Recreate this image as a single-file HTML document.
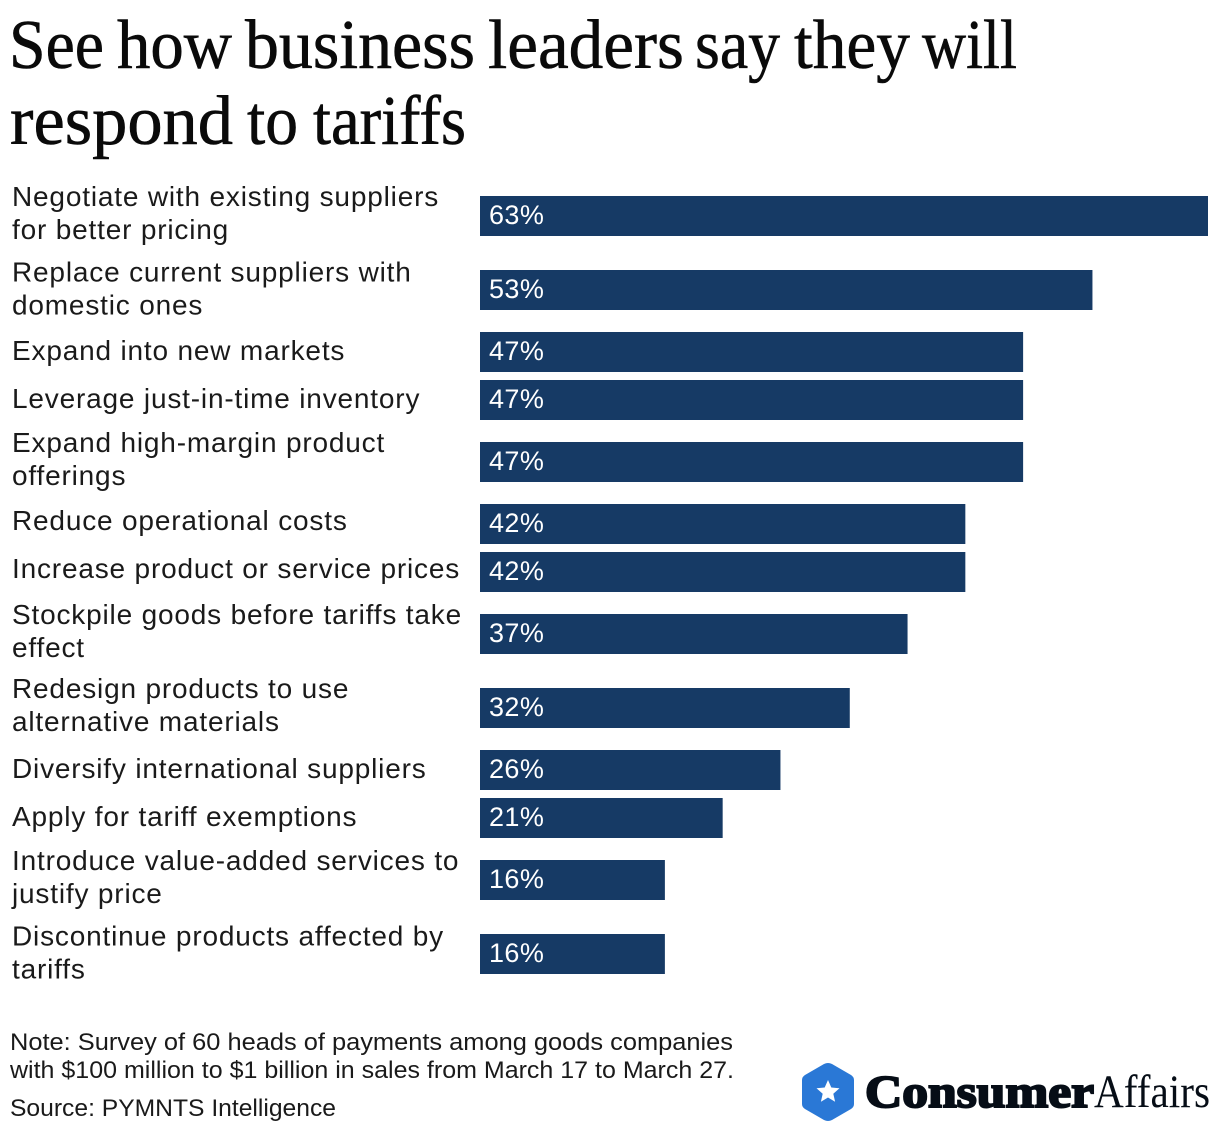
<!DOCTYPE html>
<html lang="en"><head><meta charset="utf-8"><title>See how business leaders say they will respond to tariffs</title>
<style>
html,body{margin:0;padding:0;background:#fff;width:1220px;height:1134px;overflow:hidden}
svg{display:block}
text{font-family:"Liberation Sans",sans-serif;fill:#111}
.t{font-family:"Liberation Serif",serif;font-size:70px;fill:#0a0a0a;stroke:#0a0a0a;stroke-width:.6px}
.l{font-size:28px;fill:#1a1a1a;letter-spacing:.82px}
.v{font-size:27px;fill:#fff;letter-spacing:.4px}
.n{font-size:24px;fill:#1a1a1a}
</style></head><body>
<svg id="chart" xmlns="http://www.w3.org/2000/svg" width="1220" height="1134" viewBox="0 0 1220 1134">
<text class="t" y="68"><tspan x="9" textLength="95" lengthAdjust="spacingAndGlyphs">See</tspan> <tspan x="117" textLength="115" lengthAdjust="spacingAndGlyphs">how</tspan> <tspan x="245" textLength="230" lengthAdjust="spacingAndGlyphs">business</tspan> <tspan x="488" textLength="196" lengthAdjust="spacingAndGlyphs">leaders</tspan> <tspan x="695" textLength="85" lengthAdjust="spacingAndGlyphs">say</tspan> <tspan x="794" textLength="116" lengthAdjust="spacingAndGlyphs">they</tspan> <tspan x="922" textLength="95" lengthAdjust="spacingAndGlyphs">will</tspan></text>
<text class="t" y="144"><tspan x="10" textLength="223" lengthAdjust="spacingAndGlyphs">respond</tspan> <tspan x="247" textLength="51" lengthAdjust="spacingAndGlyphs">to</tspan> <tspan x="313" textLength="153" lengthAdjust="spacingAndGlyphs">tariffs</tspan></text>
<g id="rows"></g>
<text class="n" x="10" y="1050" textLength="723" lengthAdjust="spacingAndGlyphs">Note: Survey of 60 heads of payments among goods companies</text>
<text class="n" x="10" y="1078" textLength="724" lengthAdjust="spacingAndGlyphs">with $100 million to $1 billion in sales from March 17 to March 27.</text>
<text class="n" x="10" y="1116" textLength="326" lengthAdjust="spacingAndGlyphs">Source: PYMNTS Intelligence</text>
<g>
<path d="M828 1063 Q830 1063 832 1064 L851 1075 Q854 1077 854 1080 L854 1104 Q854 1107 851 1109 L832 1120 Q828 1122 824 1120 L805 1109 Q802 1107 802 1104 L802 1080 Q802 1077 805 1075 L824 1064 Q826 1063 828 1063Z" fill="#2a78d6"/>
<polygon points="828,1080 831.3,1087.5 839.5,1088.3 833.3,1093.7 835.1,1101.7 828,1097.5 820.9,1101.7 822.7,1093.7 816.5,1088.3 824.7,1087.5" fill="#fff"/>
<text x="865" y="1107" textLength="229" lengthAdjust="spacingAndGlyphs" style="font-family:'Liberation Serif',serif;font-weight:bold;font-size:45px;fill:#060d16;stroke:#060d16;stroke-width:2px">Consumer</text>
<text x="1094" y="1107" textLength="116" lengthAdjust="spacingAndGlyphs" style="font-family:'Liberation Serif',serif;font-size:47px;fill:#060d16">Affairs</text>
</g>
</svg>
<script>
const categories = [
  ["Negotiate with existing suppliers", "for better pricing"],
  ["Replace current suppliers with", "domestic ones"],
  ["Expand into new markets"],
  ["Leverage just-in-time inventory"],
  ["Expand high-margin product", "offerings"],
  ["Reduce operational costs"],
  ["Increase product or service prices"],
  ["Stockpile goods before tariffs take", "effect"],
  ["Redesign products to use", "alternative materials"],
  ["Diversify international suppliers"],
  ["Apply for tariff exemptions"],
  ["Introduce value-added services to", "justify price"],
  ["Discontinue products affected by", "tariffs"]
];
const shares = [63, 53, 47, 47, 47, 42, 42, 37, 32, 26, 21, 16, 16];

const SVGNS = "http://www.w3.org/2000/svg";
const x0 = 480, barH = 40, pxPerPoint = 728 / 63, firstTop = 196;
const xScale = v => v * pxPerPoint;
const pitch = (a, b) => (a === 2 && b === 2) ? 74 : (a === 1 && b === 1) ? 48 : 62;
const rows = document.getElementById("rows");
const rowNudge = i => (i === 5 || i === 6) ? -2 : (i === 1 || i === 12) ? 1.5 : 0;
let barTop = firstTop;
categories.forEach((lines, i) => {
  const g = document.createElementNS(SVGNS, "g");
  
  
  const rect = document.createElementNS(SVGNS, "rect");
  
  
  rect.setAttribute("x", x0);
  rect.setAttribute("y", barTop);
  rect.setAttribute("width", xScale(shares[i]));
  rect.setAttribute("height", barH);
  rect.setAttribute("fill", "#163a65");
  g.appendChild(rect);
  const val = document.createElementNS(SVGNS, "text");
  
  
  val.setAttribute("class", "v");
  val.setAttribute("x", x0 + 9);
  val.setAttribute("y", barTop + 28);
  val.textContent = shares[i] + "%";
  g.appendChild(val);
  const c = barTop + barH / 2;
  lines.forEach((s, j) => {
    const t = document.createElementNS(SVGNS, "text");
    
    
    t.setAttribute("class", "l");
    t.setAttribute("x", 12);
    t.setAttribute("y", (lines.length === 1 ? c + 8 : (j === 0 ? c - 10 : c + 23)) + rowNudge(i));
    t.textContent = s;
    g.appendChild(t);
  });
  rows.appendChild(g);
  if (i < categories.length - 1) barTop += pitch(lines.length, categories[i + 1].length);
});
</script>
</body></html>
